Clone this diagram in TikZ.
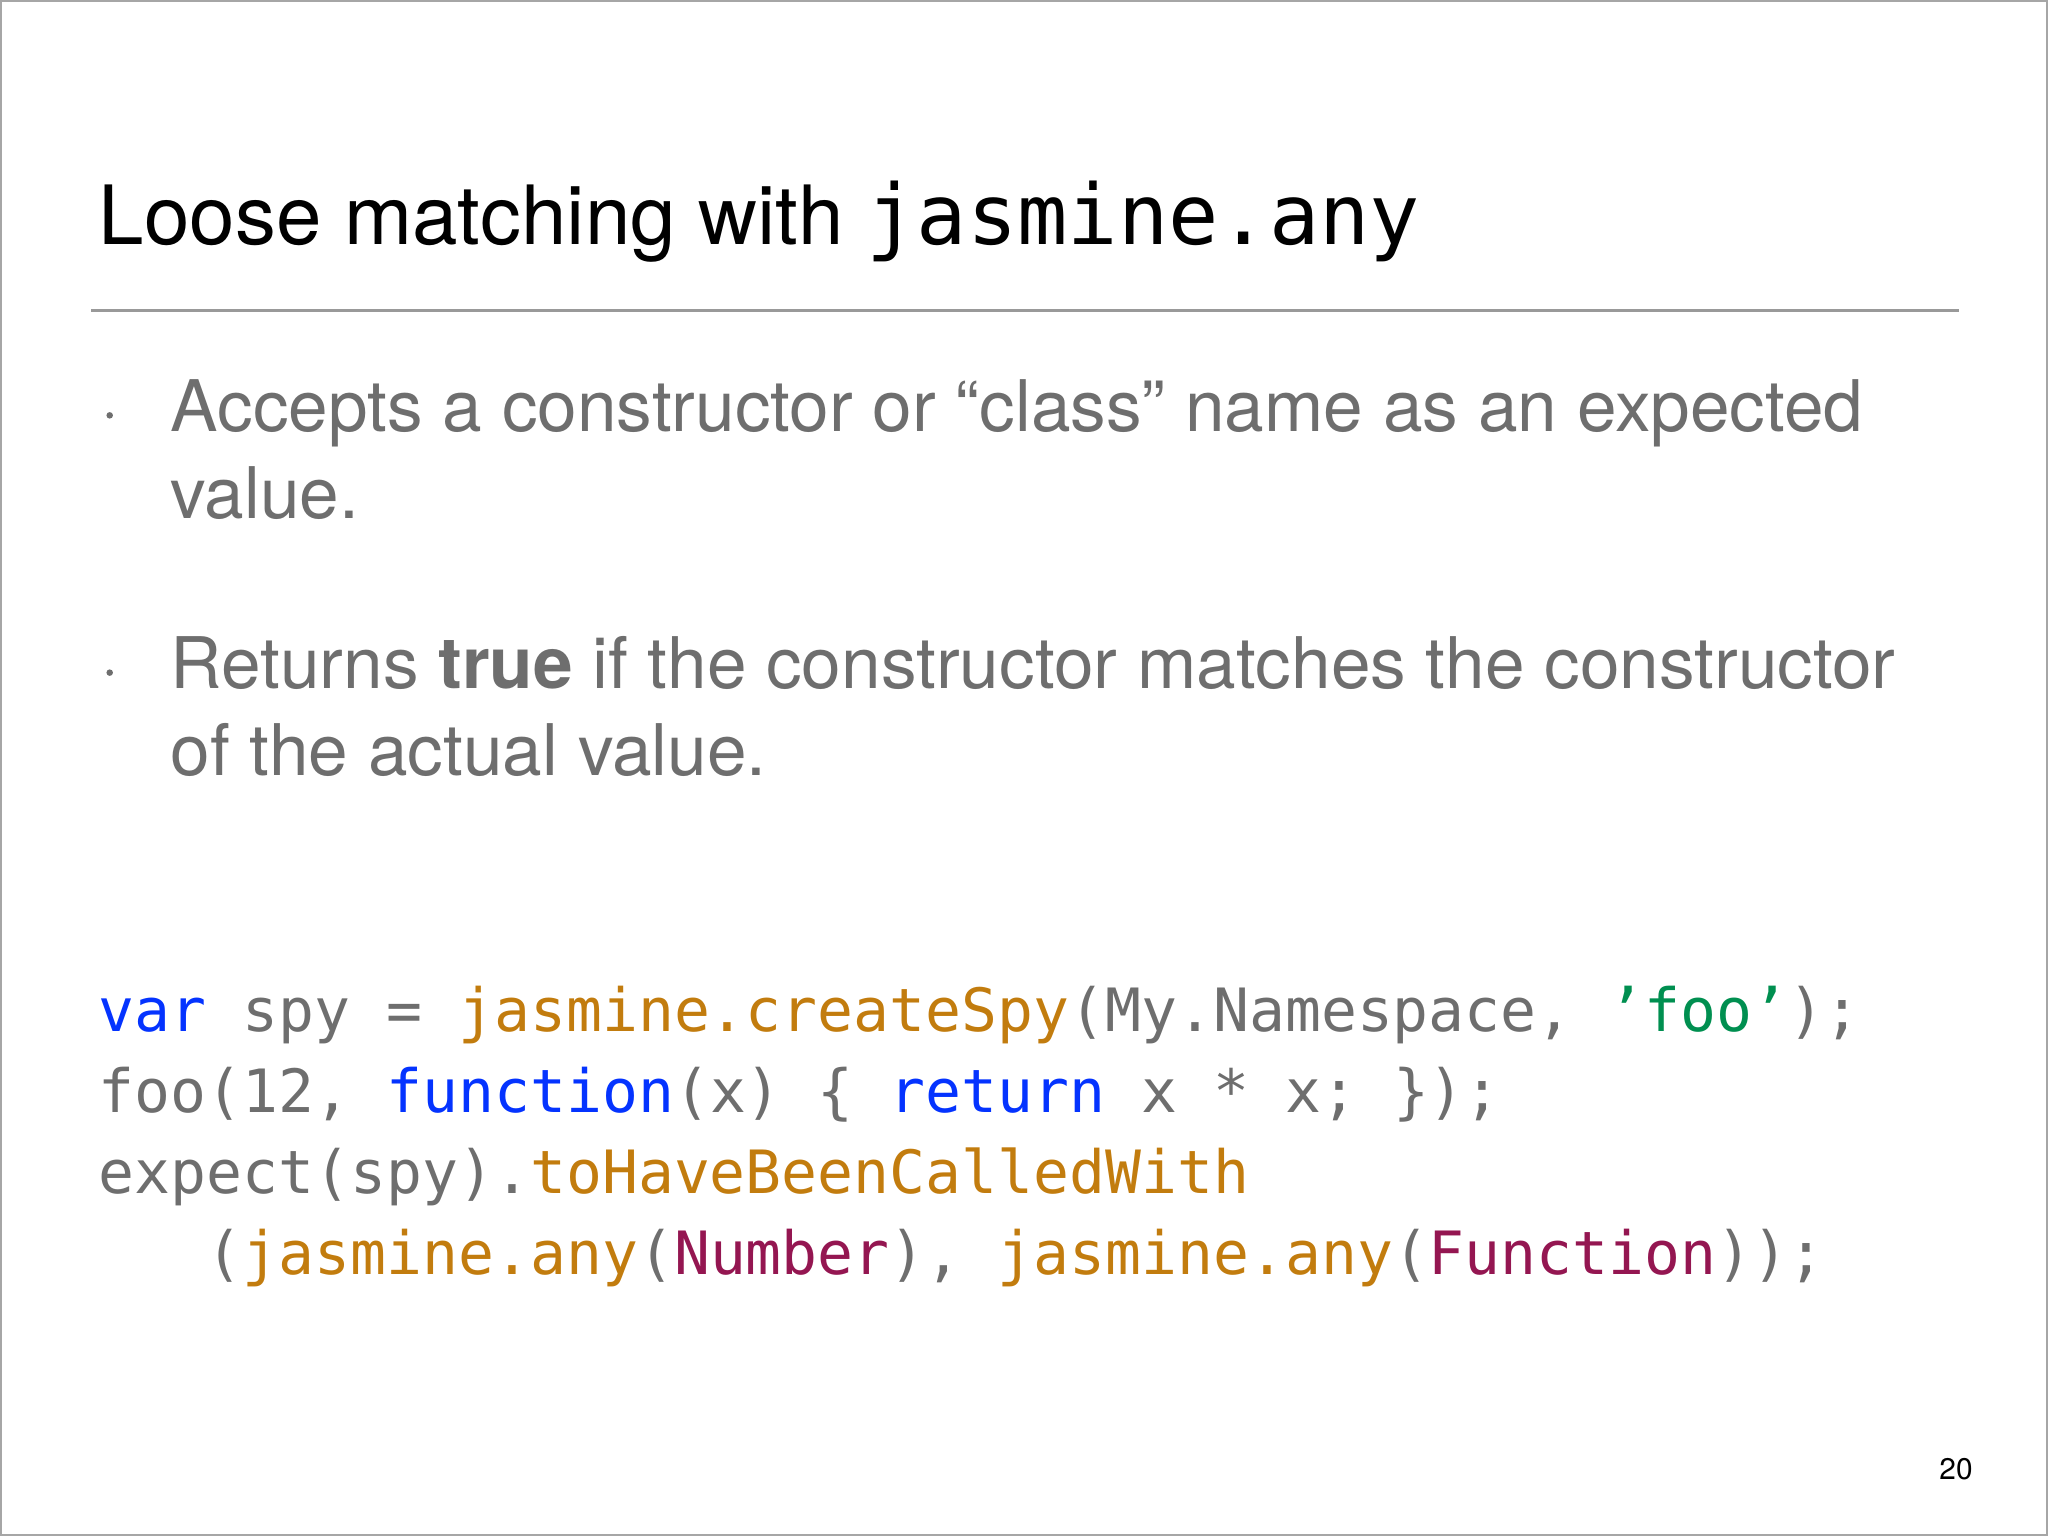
\documentclass[tikz,border=0pt]{standalone}
\usepackage{fontspec}
\setmainfont{TeX Gyre Heros}
\newfontfamily\codefont{DejaVu Sans Mono}
\definecolor{txtgray}{HTML}{6E6E6E}
\definecolor{kwblue}{HTML}{0433FF}
\definecolor{fnorange}{HTML}{C27C0E}
\definecolor{strgreen}{HTML}{008F50}
\definecolor{clsred}{HTML}{941651}
\begin{document}
\begin{tikzpicture}[x=0.01cm,y=-0.01cm,
  txt/.style={anchor=base west,inner sep=0pt,text=txtgray,font=\fontsize{15.5}{19}\selectfont},
  bul/.style={circle,fill=txtgray,inner sep=0pt,minimum size=0.05cm},
  code/.style={anchor=base west,inner sep=0pt,text=txtgray,font=\codefont\fontsize{13}{17.6}\selectfont}]
\useasboundingbox (0,0) rectangle (1568,1176);
\draw[gray!70,line width=0.6pt] (0.5,0.5) rectangle (1567.5,1175.5);
\node[anchor=base west,inner sep=0pt,font=\fontsize{17.8}{20}\selectfont] (title) at (75,187) {Loose matching with {\codefont\fontsize{18.2}{20}\selectfont jasmine.any}};
\coordinate (rl) at (70,238); \coordinate (rr) at (1500,238);
\draw[gray!80,line width=0.6pt] (rl) -- (rr);
\node[bul] (b1) at (84,318) {};
\node[txt] (t1) at (130,330) {Accepts a constructor or “class” name as an expected};
\node[txt] (t1b) at (130,397) {value.};
\node[bul] (b2) at (84,515) {};
\node[txt] (t2) at (130,527) {Returns \textbf{true} if the constructor matches the constructor};
\node[txt] (t2b) at (130,594) {of the actual value.};
\node[code] (c1) at (75,790) {\textcolor{kwblue}{var} spy = \textcolor{fnorange}{jasmine.createSpy}(My.Namespace, \textcolor{strgreen}{’foo’});};
\node[code] (c2) at (75,852) {foo(12, \textcolor{kwblue}{function}(x) \{ \textcolor{kwblue}{return} x * x; \});};
\node[code] (c3) at (75,914) {expect(spy).\textcolor{fnorange}{toHaveBeenCalledWith}};
\node[code] (c4) at (75,976) {\ \ \ (\textcolor{fnorange}{jasmine.any}(\textcolor{clsred}{Number}), \textcolor{fnorange}{jasmine.any}(\textcolor{clsred}{Function}));};
\node[anchor=base east,inner sep=0pt,font=\fontsize{6.5}{8}\selectfont] (pg) at (1511,1133) {20};
\end{tikzpicture}
\end{document}
